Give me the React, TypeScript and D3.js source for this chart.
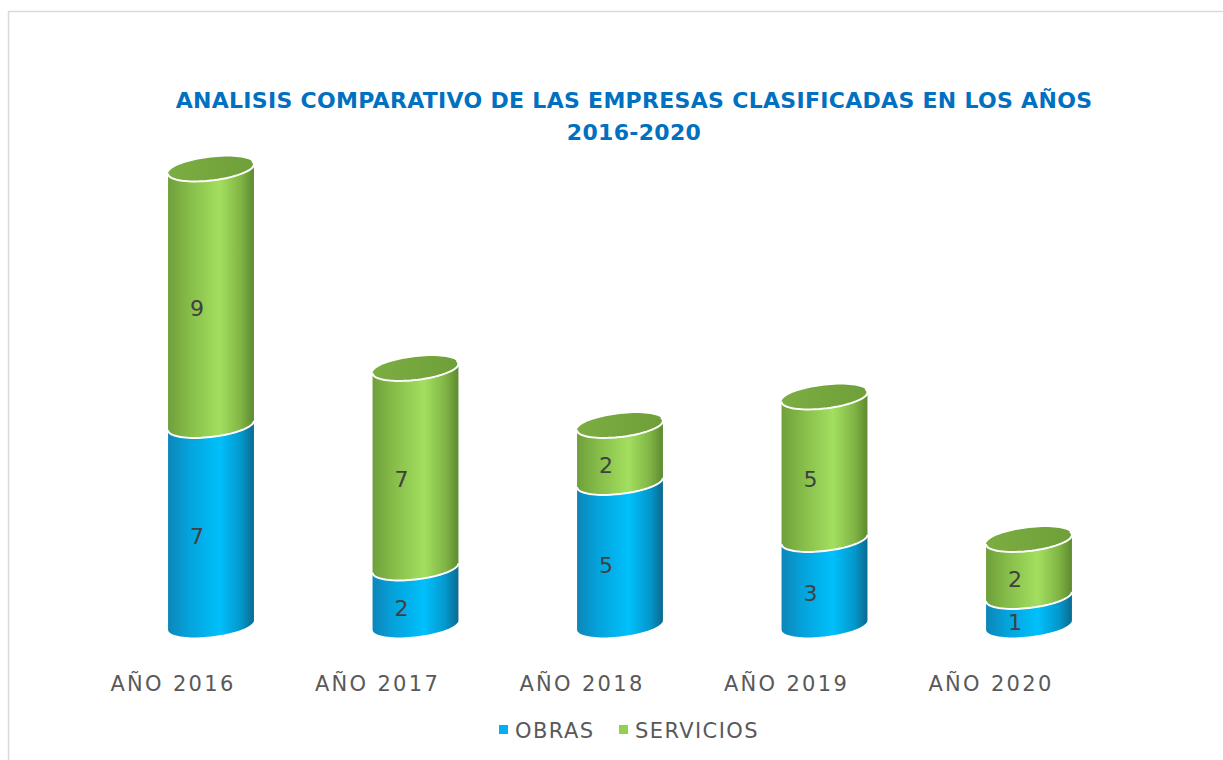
import React from "react";
import * as d3 from "d3";

const categories = ["AÑO 2016", "AÑO 2017", "AÑO 2018", "AÑO 2019", "AÑO 2020"];
const obras = [7, 2, 5, 3, 1];
const servicios = [9, 7, 2, 5, 2];
const seriesNames = ["OBRAS", "SERVICIOS"];
const titleLines = ["ANALISIS COMPARATIVO DE LAS EMPRESAS CLASIFICADAS EN LOS AÑOS", "2016-2020"];

const W = 1223;
const H = 760;
const FONT = "'DejaVu Sans', sans-serif";

const x = d3.scaleBand<string>().domain(categories).range([108.75, 1131.25]).paddingInner(0.58).paddingOuter(0.29);
const y = d3.scaleLinear().domain([0, 16]).range([625, 169]);

const RY = 11.5;
const SLOPE = 0.11;

function ellPt(cx: number, cy: number, rx: number, t: number): [number, number] {
  return [cx + rx * Math.cos(t), cy + RY * Math.sin(t) - SLOPE * rx * Math.cos(t)];
}

function frontArc(cx: number, cy: number, rx: number, from: number, to: number, n = 40): [number, number][] {
  const pts: [number, number][] = [];
  for (let i = 0; i <= n; i++) {
    const t = from + ((to - from) * i) / n;
    pts.push(ellPt(cx, cy, rx, t));
  }
  return pts;
}

const line = d3.line<[number, number]>();

function sidePath(cx: number, rx: number, yBottom: number, yTop: number) {
  const top = frontArc(cx, yTop, rx, Math.PI, 0);
  const bottom = frontArc(cx, yBottom, rx, 0, Math.PI);
  return line([...top, ...bottom]) + "Z";
}

function fullEllipse(cx: number, cy: number, rx: number) {
  return line(frontArc(cx, cy, rx, 0, Math.PI * 2, 80)) + "Z";
}

export default function App() {
  const rx = x.bandwidth() / 2;
  return (
    <svg width={W} height={H} style={{ position: "absolute", left: 0, top: 0, background: "#fff" }}>
      <defs>
        <linearGradient id="gBlue" x1="0" x2="1" y1="0" y2="0">
          <stop offset="0" stopColor="#0d86b8" />
          <stop offset="0.25" stopColor="#04a3dc" />
          <stop offset="0.6" stopColor="#00c0fb" />
          <stop offset="0.85" stopColor="#0497cc" />
          <stop offset="1" stopColor="#0b6a90" />
        </linearGradient>
        <linearGradient id="gGreen" x1="0" x2="1" y1="0" y2="0">
          <stop offset="0" stopColor="#6f9f3b" />
          <stop offset="0.25" stopColor="#86bd49" />
          <stop offset="0.6" stopColor="#a3df5f" />
          <stop offset="0.85" stopColor="#80b445" />
          <stop offset="1" stopColor="#5d8a2f" />
        </linearGradient>
        <linearGradient id="gTop" x1="0" x2="1" y1="0" y2="0">
          <stop offset="0" stopColor="#7cad42" />
          <stop offset="1" stopColor="#6f9f39" />
        </linearGradient>
      </defs>
      <rect x={8.5} y={11.5} width={1230} height={800} fill="#fff" stroke="#d9d9d9" strokeWidth={1.5} />
      {titleLines.map((t, i) => (
        <text key={i} x={634} y={108 + i * 32} textAnchor="middle" fontFamily={FONT} fontWeight="bold" fontSize={22} letterSpacing={0.3} fill="#0070c0">
          {t}
        </text>
      ))}
      {categories.map((c, i) => {
        const cx = (x(c) as number) + rx;
        const y0 = y(0);
        const y1 = y(obras[i]);
        const y2 = y(obras[i] + servicios[i]);
        return (
          <g key={c}>
            <path d={sidePath(cx, rx, y0, y1)} fill="url(#gBlue)" />
            <path d={sidePath(cx, rx, y1, y2)} fill="url(#gGreen)" />
            <path d={fullEllipse(cx, y2, rx)} fill="url(#gTop)" />
            <path d={line(frontArc(cx, y2, rx, Math.PI, -0.3))!} fill="none" stroke="#fff" strokeWidth={2} />
            <path d={line(frontArc(cx, y1, rx, Math.PI, 0))!} fill="none" stroke="#fff" strokeWidth={2} />
            <text x={cx - 14} y={(y0 + y1) / 2 + 19} textAnchor="middle" fontFamily={FONT} fontSize={22} fill="#404040">
              {obras[i]}
            </text>
            <text x={cx - 14} y={(y1 + y2) / 2 + 19} textAnchor="middle" fontFamily={FONT} fontSize={22} fill="#404040">
              {servicios[i]}
            </text>
            <text x={cx - 38} y={691} textAnchor="middle" fontFamily={FONT} fontSize={21} letterSpacing={2.3} fill="#595959">
              {c}
            </text>
          </g>
        );
      })}
      <g>
        <rect x={499} y={725} width={9} height={9} fill="#00b0f0" />
        <text x={515} y={738} fontFamily={FONT} fontSize={21} letterSpacing={1.4} fill="#595959">{seriesNames[0]}</text>
        <rect x={619} y={725} width={9} height={9} fill="#92d050" />
        <text x={635} y={738} fontFamily={FONT} fontSize={21} letterSpacing={1.4} fill="#595959">{seriesNames[1]}</text>
      </g>
    </svg>
  );
}
